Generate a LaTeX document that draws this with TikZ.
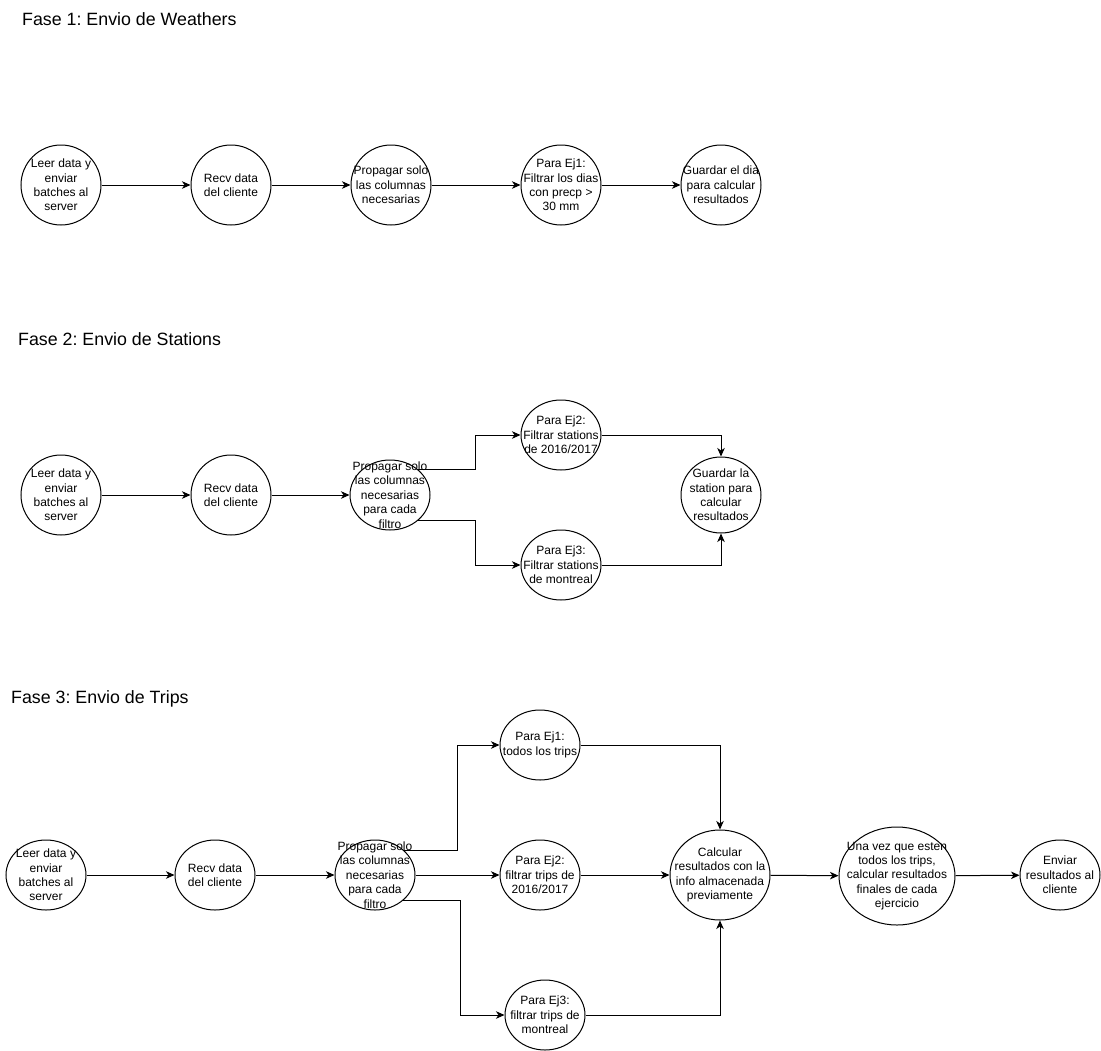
\documentclass[tikz,border=0pt]{standalone}
\usepackage{fontspec}
\setmainfont{Liberation Sans}
\usetikzlibrary{shapes.geometric,arrows.meta}
\frenchspacing
\tikzset{
  ell/.style={draw=black, line width=1bp, ellipse, inner sep=0pt, minimum width=#1},
  ell/.default=80bp,
  txt/.style={inner sep=0pt, align=center, font=\fontsize{12bp}{14.4bp}\selectfont},
  ttl/.style={inner sep=0pt, anchor=west, font=\fontsize{17.8bp}{21bp}\selectfont},
  arr/.style={draw=black, line width=1bp, -{Stealth[length=8.5bp,width=7.5bp,inset=2.5bp]}},
}
\begin{document}
\begin{tikzpicture}[x=1bp,y=-1bp]
\useasboundingbox (0,0) rectangle (1101,1051);
% ---------- Fase 1 ----------
\node[ttl] (f1) at (22,19) {Fase 1: Envio de Weathers};
\node[ell, minimum height=80bp] (n1) at (61,185) {};
\node[ell, minimum height=80bp] (n2) at (231,185) {};
\node[ell, minimum height=80bp] (n3) at (391,185) {};
\node[ell, minimum height=80bp] (n4) at (561,185) {};
\node[ell, minimum height=80bp] (n5) at (721,185) {};
\node[txt] (n1t) at (n1) {Leer data y\\enviar\\batches al\\server};
\node[txt] (n2t) at (n2) {Recv data\\del cliente};
\node[txt] (n3t) at (n3) {Propagar solo\\las columnas\\necesarias};
\node[txt] (n4t) at (n4) {Para Ej1:\\Filtrar los dias\\con precp >\\30 mm};
\node[txt] (n5t) at (n5) {Guardar el dia\\para calcular\\resultados};
\draw[arr] (n1) -- (n2);
\draw[arr] (n2) -- (n3);
\draw[arr] (n3) -- (n4);
\draw[arr] (n4) -- (n5);
% ---------- Fase 2 ----------
\node[ttl] (f2) at (18,339) {Fase 2: Envio de Stations};
\node[ell, minimum height=80bp] (s1) at (61,495) {};
\node[ell, minimum height=80bp] (s2) at (231,495) {};
\node[ell, minimum height=70bp] (s3) at (390,495) {};
\node[ell, minimum height=70bp] (s4) at (561,435) {};
\node[ell, minimum height=70bp] (s5) at (561,565) {};
\node[ell, minimum height=76bp] (s6) at (721,495) {};
\node[txt] (s1t) at (s1) {Leer data y\\enviar\\batches al\\server};
\node[txt] (s2t) at (s2) {Recv data\\del cliente};
\node[txt] (s3t) at (s3) {Propagar solo\\las columnas\\necesarias\\para cada\\filtro};
\node[txt] (s4t) at (s4) {Para Ej2:\\Filtrar stations\\de 2016/2017};
\node[txt] (s5t) at (s5) {Para Ej3:\\Filtrar stations\\de montreal};
\node[txt] (s6t) at (s6) {Guardar la\\station para\\calcular\\resultados};
\draw[arr] (s1) -- (s2);
\draw[arr] (s2) -- (s3);
\draw[arr] (s3.42) -- ++(57,0) |- (s4.west);
\draw[arr] (s3.-42) -- ++(57,0) |- (s5.west);
\draw[arr] (s4.east) -| (s6.north);
\draw[arr] (s5.east) -| (s6.south);
% ---------- Fase 3 ----------
\node[ttl] (f3) at (11,699) {Fase 3: Envio de Trips};
\node[ell, minimum height=70bp] (t1) at (46,875) {};
\node[ell, minimum height=70bp] (t2) at (215,875) {};
\node[ell, minimum height=70bp] (t3) at (375,875) {};
\node[ell, minimum height=70bp] (t4) at (540,745) {};
\node[ell, minimum height=70bp] (t5) at (540,875) {};
\node[ell, minimum height=70bp] (t6) at (545,1015) {};
\node[ell=100bp, minimum height=90bp] (t7) at (720,875) {};
\node[ell=116bp, minimum height=98bp] (t8) at (897,876) {};
\node[ell, minimum height=70bp] (t9) at (1060,875) {};
\node[txt] (t1t) at (t1) {Leer data y\\enviar\\batches al\\server};
\node[txt] (t2t) at (t2) {Recv data\\del cliente};
\node[txt] (t3t) at (t3) {Propagar solo\\las columnas\\necesarias\\para cada\\filtro};
\node[txt] (t4t) at (t4) {Para Ej1:\\todos los trips};
\node[txt] (t5t) at (t5) {Para Ej2:\\filtrar trips de\\2016/2017};
\node[txt] (t6t) at (t6) {Para Ej3:\\filtrar trips de\\montreal};
\node[txt] (t7t) at (t7) {Calcular\\resultados con la\\info almacenada\\previamente};
\node[txt] (t8t) at (t8) {Una vez que esten\\todos los trips,\\calcular resultados\\finales de cada\\ejercicio};
\node[txt] (t9t) at (t9) {Enviar\\resultados al\\cliente};
\draw[arr] (t1) -- (t2);
\draw[arr] (t2) -- (t3);
\draw[arr] (t3.40) -- ++(53,0) |- (t4.west);
\draw[arr] (t3) -- (t5);
\draw[arr] (t3.-42) -- ++(57,0) |- (t6.west);
\draw[arr] (t4.east) -| (t7.north);
\draw[arr] (t5) -- (t7);
\draw[arr] (t6.east) -| (t7.south);
\draw[arr] (t7) -- (t8);
\draw[arr] (t8) -- (t9);
\end{tikzpicture}
\end{document}
